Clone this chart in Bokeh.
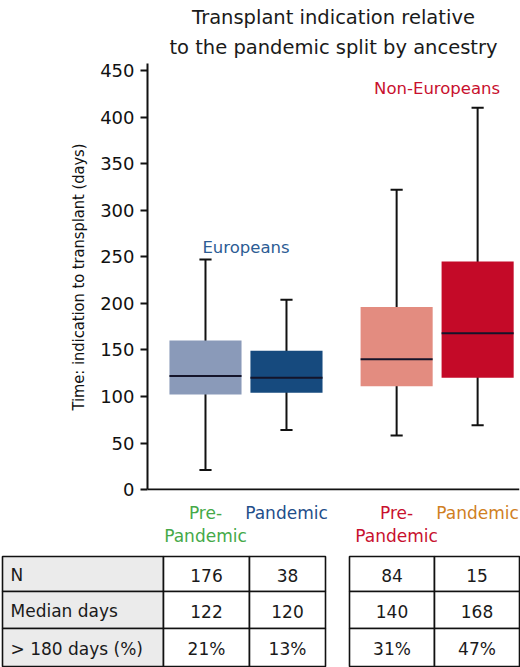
from bokeh.plotting import figure
from bokeh.models import Range1d, FixedTicker, Title, ColumnDataSource
from bokeh.layouts import column
from bokeh.embed import file_html
from bokeh.resources import INLINE
from bokeh.core.properties import value

# ---------------- data ----------------
title_lines = ["Transplant indication relative", "to the pandemic split by ancestry"]
groups = ["Europeans", "Non-Europeans"]
periods = ["Pre-Pandemic", "Pandemic"]
cat_lines = [["Pre-", "Pandemic"], ["Pandemic"], ["Pre-", "Pandemic"], ["Pandemic"]]
lower = [21, 64, 58, 69]
q1 = [102, 104, 111, 120]
median = [122, 120, 140, 168]
q3 = [160, 149, 196, 245]
upper = [247, 204, 322, 410]
group_label_y = [260, 431]
y_ticks = [0, 50, 100, 150, 200, 250, 300, 350, 400, 450]

row_labels = ["N", "Median days", "> 180 days (%)"]
n_vals = ["176", "38", "84", "15"]
median_vals = ["122", "120", "140", "168"]
over180_vals = ["21%", "13%", "31%", "47%"]

# ---------------- style / layout ----------------
box_colors = ["#8A9AB9", "#164A7E", "#E38C80", "#C40A28"]
cat_colors = ["#45A948", "#1F4E8A", "#C8102E", "#D0801F"]
group_colors = ["#2C5C94", "#C8102E"]
median_color = "#14142A"
FONT = "DejaVu Sans"
GROUP_GAP = 0.36
BOX_W = 0.89
CAP_W = 0.15
Y_MAX = 457.6
Y_MIN = -1.0
X_MIN, X_MAX = 0.284, 4.877
W = 520
BORDER_L, BORDER_R = 147, 1
FRAME_BOTTOM = 490
TOP_H, TABLE_H = 502, 165

pos = [gi * (2 + GROUP_GAP) + pi + 1 for gi in range(len(groups)) for pi in range(len(periods))]

p = figure(width=W, height=TOP_H, x_range=Range1d(X_MIN, X_MAX), y_range=Range1d(Y_MIN, Y_MAX),
           output_backend="svg", toolbar_location=None, frame_align=False,
           min_border_left=BORDER_L, min_border_right=BORDER_R, min_border_top=63,
           min_border_bottom=TOP_H - FRAME_BOTTOM)
p.title.text = title_lines[0]
p.title.align = "center"
p.title.text_font = FONT
p.title.text_font_size = "19.5px"
p.title.text_font_style = "normal"
p.title.text_color = "#1a1a1a"
p.title.standoff = 3
p.add_layout(Title(text=title_lines[1], align="center", vertical_align="middle", text_font=FONT,
                   text_font_size="19.5px", text_font_style="normal", text_color="#1a1a1a",
                   standoff=8), "above")

p.grid.visible = False
p.outline_line_color = None

p.xaxis.fixed_location = 0
p.xaxis.ticker = FixedTicker(ticks=[])
p.xaxis.axis_line_width = 2
p.xaxis.axis_line_color = "#111111"
p.xaxis.major_tick_line_color = None
p.xaxis.minor_tick_line_color = None

p.yaxis.bounds = (0, Y_MAX)
p.yaxis.ticker = FixedTicker(ticks=y_ticks, minor_ticks=[])
p.yaxis.axis_line_width = 2
p.yaxis.axis_line_color = "#111111"
p.yaxis.major_tick_line_width = 2
p.yaxis.major_tick_line_color = "#111111"
p.yaxis.major_tick_out = 7
p.yaxis.major_tick_in = 0
p.yaxis.minor_tick_line_color = None
p.yaxis.major_label_text_font = FONT
p.yaxis.major_label_text_font_size = "18px"
p.yaxis.major_label_text_color = "#111111"
p.yaxis.major_label_standoff = 6
p.yaxis.axis_label = "Time: indication to transplant (days)"
p.yaxis.axis_label_text_font = "DejaVu Sans Condensed, DejaVu Sans"
p.yaxis.axis_label_text_font_size = "16.3px"
p.yaxis.axis_label_text_font_style = "normal"
p.yaxis.axis_label_text_color = "#111111"
p.yaxis.axis_label_standoff = 9

src = ColumnDataSource(dict(x=pos, lower=lower, q1=q1, med=median, q3=q3, upper=upper,
                            color=box_colors,
                            cl=[x - CAP_W / 2 for x in pos], cr=[x + CAP_W / 2 for x in pos],
                            bl=[x - BOX_W / 2 for x in pos], br=[x + BOX_W / 2 for x in pos]))
# whiskers
p.segment(x0="x", y0="lower", x1="x", y1="upper", source=src, line_color="#111111", line_width=2)
p.segment(x0="cl", y0="upper", x1="cr", y1="upper", source=src, line_color="#111111", line_width=2)
p.segment(x0="cl", y0="lower", x1="cr", y1="lower", source=src, line_color="#111111", line_width=2)
# boxes
p.vbar(x="x", width=BOX_W, bottom="q1", top="q3", source=src, fill_color="color", line_color=None)
# medians
p.segment(x0="bl", y0="med", x1="br", y1="med", source=src, line_color=median_color, line_width=2)

# group labels
gsrc = ColumnDataSource(dict(
    x=[(pos[2 * gi] + pos[2 * gi + 1]) / 2 for gi in range(len(groups))],
    y=group_label_y, text=groups, color=group_colors))
p.text(x="x", y="y", text="text", text_color="color", source=gsrc, text_align="center",
       text_baseline="middle", text_font=value(FONT), text_font_size="16.5px")

# ---------------- lower panel: category labels + table ----------------
# same horizontal units as the chart (box positions), extended to the full page width
unit = (W - BORDER_L - BORDER_R) / (X_MAX - X_MIN)
TX_MIN = X_MIN - BORDER_L / unit
TX_MAX = X_MAX + BORDER_R / unit


def tx_(px):
    return TX_MIN + px / unit


t = figure(width=W, height=TABLE_H, x_range=Range1d(TX_MIN, TX_MAX), y_range=Range1d(667, TOP_H),
           output_backend="svg", toolbar_location=None, frame_align=False,
           min_border=0, min_border_left=0, min_border_right=0, min_border_top=0, min_border_bottom=0)
t.axis.visible = False
t.grid.visible = False
t.outline_line_color = None

# category labels
CAT_Y0 = 512
CAT_STEP = 23
cx, cy, ct, cc = [], [], [], []
for i, lines in enumerate(cat_lines):
    for k, s in enumerate(lines):
        cx.append(pos[i]); cy.append(CAT_Y0 + k * CAT_STEP); ct.append(s); cc.append(cat_colors[i])
csrc = ColumnDataSource(dict(x=cx, y=cy, text=ct, color=cc))
t.text(x="x", y="y", text="text", text_color="color", source=csrc, text_align="center",
       text_baseline="middle", text_font=value(FONT), text_font_size="17px")

# table
col_edges_a = [tx_(v) for v in (2, 163, 249, 325)]
col_edges_b = [tx_(v) for v in (349, 434, 519)]
row_edges = [556, 591, 628, 666]
values = [n_vals, median_vals, over180_vals]

val_cols = [(col_edges_a[1], col_edges_a[2]), (col_edges_a[2], col_edges_a[3]),
            (col_edges_b[0], col_edges_b[1]), (col_edges_b[1], col_edges_b[2])]

ql, qr, qt, qb, qf = [], [], [], [], []
sx, sy, st, sa = [], [], [], []
for r in range(len(row_labels)):
    top, bot = row_edges[r], row_edges[r + 1]
    ql.append(col_edges_a[0]); qr.append(col_edges_a[1]); qt.append(top); qb.append(bot); qf.append("#EBEBEB")
    sx.append(col_edges_a[0] + 8 / unit); sy.append((top + bot) / 2 + 1); st.append(row_labels[r]); sa.append("left")
    for c, (a, b) in enumerate(val_cols):
        ql.append(a); qr.append(b); qt.append(top); qb.append(bot); qf.append("#FFFFFF")
        sx.append((a + b) / 2); sy.append((top + bot) / 2 + 1); st.append(values[r][c]); sa.append("center")

t.quad(left=ql, right=qr, top=qt, bottom=qb, fill_color=qf, line_color="#111111", line_width=1.6)
tsrc = ColumnDataSource(dict(x=sx, y=sy, text=st, align=sa))
t.text(x="x", y="y", text="text", text_align="align", text_baseline="middle", source=tsrc,
       text_font=value(FONT), text_font_size="17px", text_color="#1a1a1a")

layout = column(p, t, spacing=0)
open("out.html", "w").write(file_html(layout, INLINE))
